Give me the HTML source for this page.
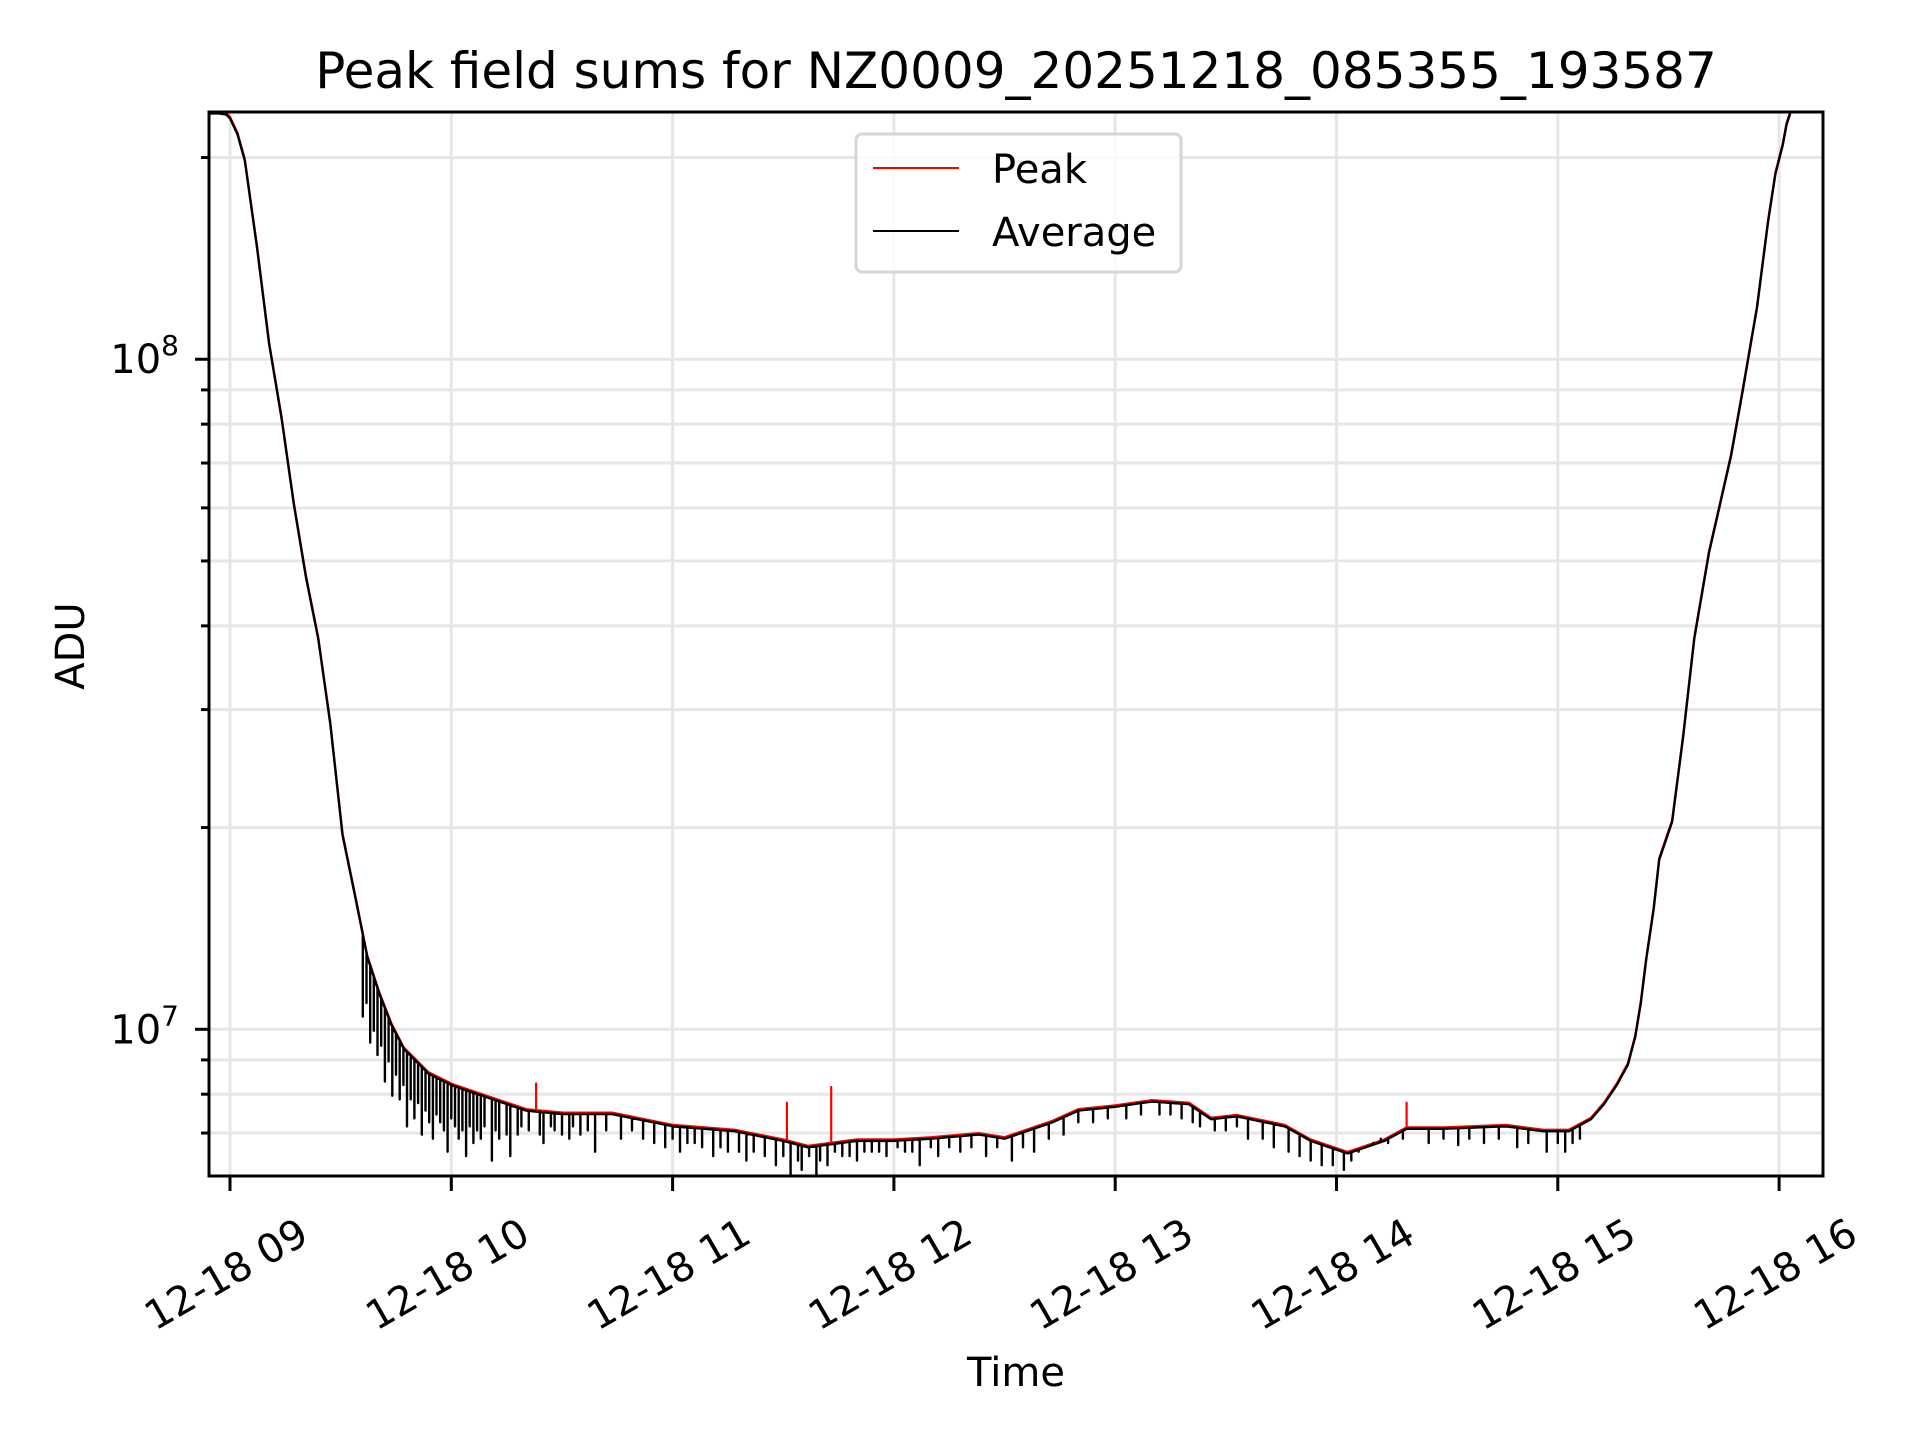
<!DOCTYPE html>
<html><head><meta charset="utf-8"><style>
html,body{margin:0;padding:0;background:#fff;}
svg{display:block;font-family:"DejaVu Sans","Liberation Sans",sans-serif;}
</style></head><body>
<svg id="chart" width="1920" height="1440" viewBox="0 0 1920 1440" xmlns="http://www.w3.org/2000/svg">
<rect width="1920" height="1440" fill="#fff"/>
<g id="grid"></g>
<g id="series"></g>
<g id="axes"></g>
<text x="1016" y="88" font-size="50" text-anchor="middle">Peak field sums for NZ0009_20251218_085355_193587</text>
<text x="1016" y="1386" font-size="40" text-anchor="middle">Time</text>
<text x="84" y="646" font-size="40" text-anchor="middle" transform="rotate(-90 84 646)">ADU</text>
<g>
<rect x="856" y="134" width="325" height="138" rx="6" fill="#fff" fill-opacity="0.8" stroke="#d6d6d6" stroke-width="3"/>
<line x1="873" y1="168" x2="959" y2="168" stroke="#ff0000" stroke-width="2"/>
<text x="992" y="183" font-size="40">Peak</text>
<line x1="873" y1="231" x2="959" y2="231" stroke="#000" stroke-width="2"/>
<text x="992" y="246" font-size="40">Average</text>
</g>
</svg>
<script>
// minutes relative to 12-18 09:00
const baseTimes = [-5.6,-3,-1,0,2,4,7.3,10.6,14,17.3,20.6,23.9,27.2,30.5,33.9,37.2,40.5,43.8,47.1,50.5,53.8,60.4,70.4,80.3,90.3,103.6,120.2,136.8,150,156.7,170,180,190,203,210,223,230,240,250,260,266,273,286,293,303,313,319,329,346,356,363,369,372.5,376,379,381,382.5,384,386,387.5,391,394,397,401,404,407,410,414,417,419,421,422,423];
const peakValues = [2.34e8,2.34e8,2.33e8,2.30e8,2.18e8,1.99e8,1.48e8,1.06e8,8.2e7,6.11e7,4.75e7,3.85e7,2.87e7,1.96e7,1.59e7,1.29e7,1.135e7,1.02e7,9.4e6,9.0e6,8.63e6,8.28e6,7.93e6,7.6e6,7.51e6,7.51e6,7.2e6,7.08e6,6.85e6,6.7e6,6.85e6,6.85e6,6.9e6,7.0e6,6.9e6,7.3e6,7.6e6,7.7e6,7.84e6,7.77e6,7.38e6,7.45e6,7.2e6,6.85e6,6.56e6,6.85e6,7.14e6,7.14e6,7.2e6,7.08e6,7.08e6,7.38e6,7.77e6,8.3e6,8.9e6,9.8e6,1.10e7,1.28e7,1.52e7,1.80e7,2.05e7,2.75e7,3.85e7,5.17e7,6.11e7,7.23e7,8.93e7,1.20e8,1.61e8,1.90e8,2.10e8,2.25e8,2.34e8];
// downward dips of the average series
const dipTimes = [36,37,38,39,40,41,42,43,44,45,46,47,48,49,50,51,52,53,54,55,56,57,58,59,60,61,62,63,64,65,66,67,68,69,71,72,73,75,76,78,79,81,84,85,87,88,90,92,93,95,97,99,102,106,109,112,115,118,120,122,124,126,128,131,133,135,138,140,142,145,148,150,152,154,155,157,159,160,162,164,166,168,170,172,174,176,178,181,183,185,187,190,192,195,198,201,205,208,212,215,218,222,226,230,234,238,243,247,252,255,258,261,263,267,270,273,276,280,283,287,290,293,296,299,302,304,306,308,310,312,314,318,325,329,333,336,340,344,349,352,357,360,362,364,366];
const dipValues = [1.05e7,1.1e7,9.6e6,1.0e7,9.2e6,9.5e6,8.4e6,9.0e6,8.0e6,8.6e6,7.9e6,8.3e6,7.2e6,7.9e6,7.4e6,7.8e6,7.0e6,7.6e6,7.3e6,6.9e6,7.5e6,7.3e6,7.1e6,6.6e6,7.4e6,7.2e6,6.9e6,7.1e6,6.5e6,7.2e6,6.8e6,7.1e6,6.9e6,7.2e6,6.4e6,7.1e6,6.9e6,7.0e6,6.5e6,7.0e6,7.2e6,7.1e6,7.0e6,6.8e6,7.2e6,7.1e6,7.0e6,6.9e6,7.2e6,7.0e6,7.1e6,6.6e6,7.1e6,6.9e6,7.1e6,6.9e6,6.8e6,6.7e6,6.9e6,6.6e6,6.8e6,6.8e6,6.7e6,6.5e6,6.7e6,6.6e6,6.6e6,6.4e6,6.6e6,6.5e6,6.3e6,6.5e6,6.05e6,6.4e6,6.2e6,6.5e6,6.1e6,6.4e6,6.3e6,6.6e6,6.5e6,6.5e6,6.4e6,6.6e6,6.6e6,6.6e6,6.5e6,6.7e6,6.6e6,6.6e6,6.3e6,6.7e6,6.5e6,6.7e6,6.6e6,6.7e6,6.5e6,6.7e6,6.4e6,6.7e6,6.6e6,6.9e6,7.0e6,7.3e6,7.3e6,7.4e6,7.4e6,7.5e6,7.5e6,7.5e6,7.4e6,7.3e6,7.2e6,7.1e6,7.1e6,7.2e6,6.9e6,6.9e6,6.7e6,6.6e6,6.5e6,6.4e6,6.3e6,6.3e6,6.2e6,6.4e6,6.6e6,6.7e6,6.8e6,6.9e6,6.8e6,6.9e6,6.8e6,6.9e6,6.75e6,6.9e6,6.8e6,6.9e6,6.7e6,6.8e6,6.6e6,6.8e6,6.6e6,6.8e6,6.9e6];
// upward spikes of the peak series
const spikeTimes = [83,151,163,319];
const spikeValues = [8.3e6,7.77e6,8.2e6,7.77e6];
const xTickLabels = ["12-18 09","12-18 10","12-18 11","12-18 12","12-18 13","12-18 14","12-18 15","12-18 16"];
const xTickMinutes = [0,60,120,180,240,300,360,420];

const X0=209,X1=1823,Y0=112,Y1=1176;
const HOUR=221.3, T0X=230;
const LOG_TOP=8.369, LOG_BOT=6.781;
function xs(m){return T0X+m/60*HOUR;}
function ys(v){return Y0+(LOG_TOP-Math.log10(v))/(LOG_TOP-LOG_BOT)*(Y1-Y0);}
function baseAt(m){
  for(let i=0;i<baseTimes.length-1;i++){
    if(m>=baseTimes[i]&&m<=baseTimes[i+1]){
      const f=(m-baseTimes[i])/(baseTimes[i+1]-baseTimes[i]);
      return Math.pow(10,Math.log10(peakValues[i])*(1-f)+Math.log10(peakValues[i+1])*f);
    }
  }
  return peakValues[peakValues.length-1];
}
const NS="http://www.w3.org/2000/svg";
function mk(tag,attrs,parent){const e=document.createElementNS(NS,tag);for(const k in attrs)e.setAttribute(k,attrs[k]);parent.appendChild(e);return e;}
const grid=document.getElementById('grid'),series=document.getElementById('series'),axes=document.getElementById('axes');

for(let d=6;d<=8;d++){
  for(let k=1;k<=9;k++){
    const v=k*Math.pow(10,d); const y=ys(v);
    if(y<Y0-0.5||y>Y1+0.5)continue;
    const gl=mk('line',{x1:X0,x2:X1,y1:y,y2:y,stroke:'#e6e6e6','stroke-width':3},grid);
    
    
    const tk=mk('line',{x1:X0,x2:X0-(k===1?14:8),y1:y,y2:y,stroke:'#000','stroke-width':3},axes);
    
    
    if(k===1){
      const t=mk('text',{x:X0-30,y:y+14,'font-size':40,'text-anchor':'end'},axes);
      
      
      t.textContent='10';
      const s=mk('tspan',{dy:-18,'font-size':28},t); s.textContent=String(d);
    }
  }
}
xTickMinutes.forEach((m,i)=>{
  const x=xs(m);
  const gl=mk('line',{x1:x,x2:x,y1:Y0,y2:Y1,stroke:'#e6e6e6','stroke-width':3},grid);
  
  
  const tk=mk('line',{x1:x,x2:x,y1:Y1,y2:Y1+15,stroke:'#000','stroke-width':3},axes);
  
  
  const cx=x-4, cy=1274;
  const t=mk('text',{x:cx,y:cy+14,'font-size':40,'text-anchor':'middle',transform:`rotate(-30 ${cx} ${cy})`},axes);
  
  
  t.textContent=xTickLabels[i];
});
const frame=mk('rect',{x:X0,y:Y0,width:X1-X0,height:Y1-Y0,fill:'none',stroke:'#000','stroke-width':3},axes);



const defs=mk('defs',{},series);
const cp=mk('clipPath',{id:'clip'},defs);
mk('rect',{x:X0,y:Y0,width:X1-X0,height:Y1-Y0},cp);

let events=[];
baseTimes.forEach((t,i)=>events.push({t,pts:[peakValues[i]]}));
let peakEv=events.slice();
spikeTimes.forEach((t,i)=>{const b=baseAt(t);peakEv.push({t,pts:[b,spikeValues[i],b]});});
peakEv.sort((a,b)=>a.t-b.t);
let d='';peakEv.forEach(e=>e.pts.forEach(v=>{d+=(d?'L':'M')+xs(e.t).toFixed(1)+','+ys(v).toFixed(1);}));
const pk=mk('path',{d,fill:'none',stroke:'#ff0000','stroke-width':2.2,'clip-path':'url(#clip)','stroke-linejoin':'round'},series);



let avEv=events.slice();
dipTimes.forEach((t,i)=>{const b=baseAt(t);avEv.push({t,pts:[b,dipValues[i],b]});});
avEv.sort((a,b)=>a.t-b.t);
d='';avEv.forEach(e=>e.pts.forEach(v=>{d+=(d?'L':'M')+xs(e.t).toFixed(1)+','+(ys(v)+1.5).toFixed(1);}));
const av=mk('path',{d,fill:'none',stroke:'#000','stroke-width':2.4,'clip-path':'url(#clip)','stroke-linejoin':'round'},series);


</script>
</body></html>
